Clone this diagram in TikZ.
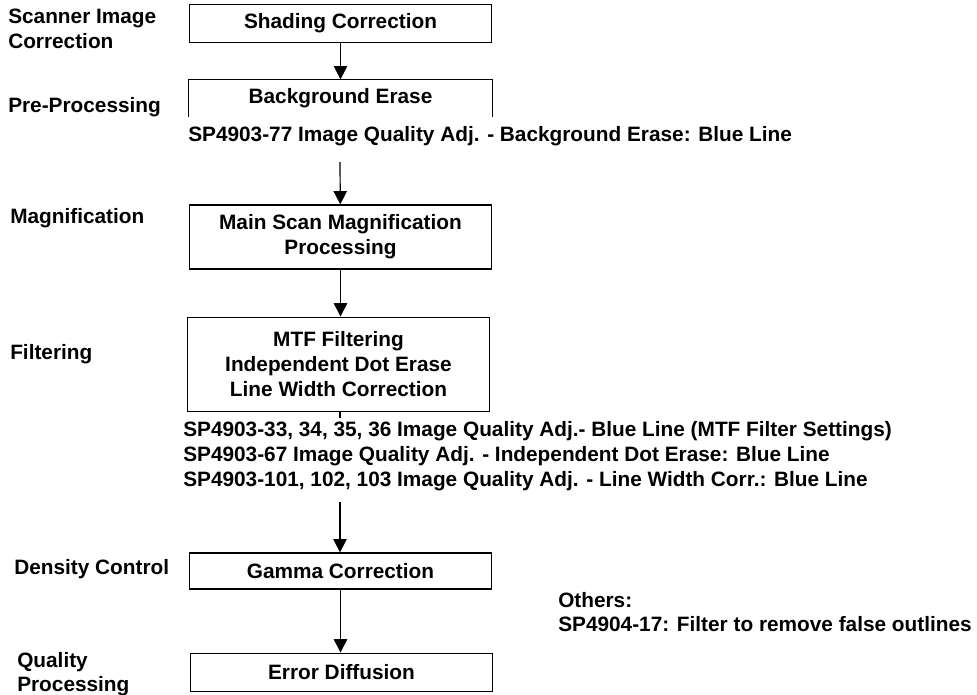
\documentclass[tikz,border=0pt]{standalone}
\usepackage{fontspec}
\setmainfont{Liberation Sans}
\usetikzlibrary{positioning,arrows.meta}

\begin{document}
\begin{tikzpicture}[x=0.75pt,y=-0.75pt,>={Triangle[length=10pt,width=10pt]},
  txt/.style={font=\fontsize{15.6}{18.5}\selectfont\bfseries,inner sep=0pt},
  stage/.style={txt,draw,line width=0.9pt,minimum width=227pt,align=center},
  note/.style={txt,anchor=west,align=left},
  flow/.style={->,line width=0.9pt}]
  \useasboundingbox (0,0) rectangle (977,695);
  % Stufen (Kaesten)
  \node[stage,minimum height=29pt] (shade) at (340.5,23.5) {Shading Correction};
  \node[stage,draw=none,minimum height=27pt] (bg) at (340.5,98) {Background Erase};
  \draw[line width=0.9pt] (bg.south west) |- (bg.north east) -- (bg.south east);
  \node[stage,minimum height=48pt,font=\fontsize{15.6}{18.75}\selectfont\bfseries] (mag) at (340.5,237) {Main Scan Magnification\\Processing};
  \node[stage,minimum height=71pt,font=\fontsize{15.6}{18.75}\selectfont\bfseries] (mtf) at (338.5,364.5) {MTF Filtering\\Independent Dot Erase\\Line Width Correction};
  \node[stage,minimum height=27pt] (gamma) at (340.5,571) {Gamma Correction};
  \node[stage,minimum height=29pt] (err) at (341.5,672.5) {Error Diffusion};
  % linke Beschriftungen
  \node[note] (lscan) at (8,29) {Scanner Image\\Correction};
  \node[note] (lpre) at (8,107.5) {Pre-Processing};
  \node[note] (lmag) at (10,218) {Magnification};
  \node[note] (lfilt) at (10,354) {Filtering};
  \node[note] (ldens) at (14,569) {Density Control};
  \node[note] (lqual) at (17,674) {Quality\\Processing};
  % SP-Hinweise
  \node[note] (sp77) at (188,136) {SP4903-77 Image Quality Adj. - Background Erase: Blue Line};
  \node[note,align=left] (spmtf) at (183,456) {SP4903-33, 34, 35, 36 Image Quality Adj.- Blue Line (MTF Filter Settings)\\
    SP4903-67 Image Quality Adj. - Independent Dot Erase: Blue Line\\
    SP4903-101, 102, 103 Image Quality Adj. - Line Width Corr.: Blue Line};
  \node[note,align=left] (others) at (558,612) {Others:\\SP4904-17: Filter to remove false outlines};
  % Pfeile
  \coordinate (a2) at (340,162);
  \coordinate (a4) at (340,502);
  \coordinate (tick) at (340,418);
  \draw[flow] (shade) -- (bg);
  \draw[flow] (a2) -- (mag);
  \draw[flow] (mag) -- (mtf.north -| mag.south);
  \draw[line width=0.8pt] (mtf.south -| tick) -- (tick);
  \draw[flow] (a4) -- (gamma.north -| a4);
  \draw[flow] (gamma) -- (err.north -| gamma.south);
\end{tikzpicture}
\end{document}
